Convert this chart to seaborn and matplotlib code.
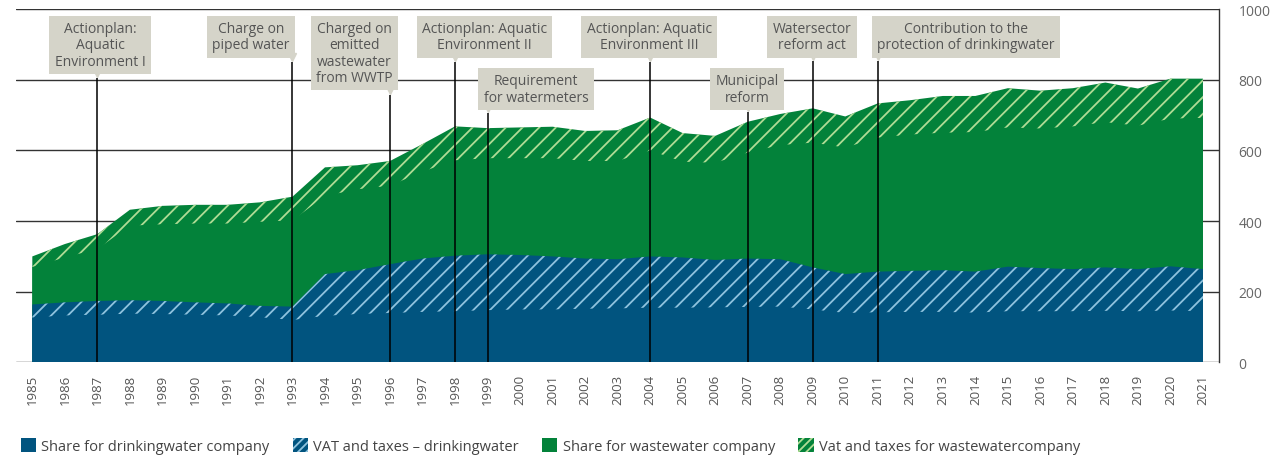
import matplotlib
matplotlib.use("Agg")
import matplotlib.pyplot as plt
import seaborn as sns
import numpy as np
import pandas as pd
from matplotlib.patches import Patch

years = list(range(1985, 2022))

# DKK per m3
drink_share = [127, 133, 135, 138, 137, 135, 133, 128, 120, 132, 137, 140, 143, 145, 148, 150, 150, 152, 153,
               155, 155, 156, 157, 158, 150, 140, 142, 143, 143, 141, 145, 145, 145, 146, 145, 147, 145]
drink_vat = [37, 37, 39, 38, 37, 35, 34, 32, 38, 118, 124, 138, 151, 157, 158, 154, 150, 142, 139,
             145, 142, 134, 137, 134, 119, 110, 115, 116, 118, 116, 126, 122, 119, 123, 119, 125, 119]
waste_share = [106, 127, 147, 211, 217, 223, 226, 238, 244, 221, 229, 222, 246, 270, 272, 274, 278, 276, 278,
               300, 271, 275, 300, 323, 353, 358, 379, 386, 389, 395, 394, 395, 404, 411, 406, 418, 428]
waste_vat = [30, 38, 42, 45, 52, 53, 53, 55, 67, 81, 68, 70, 78, 96, 85, 87, 89, 85, 87,
             93, 81, 76, 87, 88, 97, 88, 97, 97, 104, 102, 111, 107, 108, 112, 105, 113, 111]

series_labels = ["Share for drinkingwater company", "VAT and taxes \u2013 drinkingwater",
                 "Share for wastewater company", "Vat and taxes for wastewatercompany"]

event_years = [1987, 1993, 1996, 1998, 1999, 2004, 2007, 2009, 2011]
event_labels = ["Actionplan:\nAquatic\nEnvironment I", "Charge on\npiped water",
                "Charged on\nemitted\nwastewater\nfrom WWTP", "Actionplan: Aquatic\nEnvironment II",
                "Requirement\nfor watermeters", "Actionplan: Aquatic\nEnvironment III",
                "Municipal\nreform", "Watersector\nreform act",
                "Contribution to the\nprotection of drinkingwater"]

# label placement (layout only)
label_x = [1987.08, 1991.73, 1994.9, 1998.91, 2000.49, 2003.97, 2006.98, 2008.98, 2013.72]
label_top = [966, 966, 966, 966, 818, 966, 818, 966, 966]
line_top = [806, 851, 758, 851, 707, 851, 710, 854, 854]

blue = "#01547f"
green = "#03823a"
blue_hatch = "#8fc3de"
green_hatch = "#b0dc95"
box_color = "#d5d4c9"
text_color = "#555555"

df = pd.DataFrame({"year": years, "drink_share": drink_share, "drink_vat": drink_vat,
                   "waste_share": waste_share, "waste_vat": waste_vat})

sns.set_theme(style="white")
plt.rcParams["font.family"] = ["Open Sans", "DejaVu Sans"]
plt.rcParams["hatch.linewidth"] = 1.3

fig, ax = plt.subplots(figsize=(12.74, 4.56), dpi=100)
fig.subplots_adjust(left=0.0126, right=0.957, top=0.978, bottom=0.203)

layers = ["drink_share", "drink_vat", "waste_share", "waste_vat"]
fills = [blue, blue, green, green]
hatch_cols = [blue, blue_hatch, green, green_hatch]
hatches = [None, "//", None, "//"]

# cumulative tops of the stack
cum = df[layers].cumsum(axis=1)
x = df["year"]

# solid fills drawn from zero (top layer first) so no seams show between layers
for col, fc in reversed(list(zip(layers, fills))):
    ax.fill_between(x, 0, cum[col], facecolor=fc, edgecolor="none", linewidth=0, zorder=2)

# hatch only on the tax bands
for i, (col, hc, h) in enumerate(zip(layers, hatch_cols, hatches)):
    if h is None:
        continue
    lower = cum[layers[i - 1]]
    ax.fill_between(x, lower, cum[col], facecolor="none", edgecolor=hc, hatch=h,
                    linewidth=0, zorder=2.5)

# event markers
for yr, lab, lx, lt, tip in zip(event_years, event_labels, label_x, label_top, line_top):
    ax.vlines(yr, 0, tip, color="black", linewidth=1.1, zorder=3)
    ax.plot(yr, tip + 12, marker="v", markersize=6, color=box_color, zorder=4, clip_on=False)
    ax.text(lx, lt, lab, ha="center", va="top", fontsize=10, color=text_color, linespacing=1.12,
            bbox=dict(boxstyle="square,pad=0.38", facecolor=box_color, edgecolor="none"), zorder=5)

ax.set_xlim(1984.5, 2021.5)
ax.set_ylim(0, 1000)
ax.set_xticks(years)
ax.set_xticklabels([str(y) for y in years], rotation=90)
ax.set_yticks([0, 200, 400, 600, 800, 1000])
ax.yaxis.tick_right()
ax.tick_params(axis="y", length=0, pad=14, labelsize=10, labelcolor="#666666")
ax.tick_params(axis="x", length=0, pad=8, labelsize=9.5, labelcolor="#555555")
ax.grid(axis="y", color="#333333", linewidth=1.0, zorder=0)
ax.grid(axis="x", visible=False)
ax.set_axisbelow(True)
sns.despine(ax=ax, left=True, bottom=True, top=True, right=False)
ax.spines["right"].set_color("#333333")
ax.spines["right"].set_linewidth(1.0)

handles = [Patch(facecolor=fc, edgecolor=hc, hatch=("////" if h else None), linewidth=0)
           for fc, hc, h in zip(fills, hatch_cols, hatches)]
fig.legend(handles, series_labels, loc="center left", bbox_to_anchor=(0.006, 0.02), ncol=4,
           frameon=False, fontsize=10.5, handlelength=1.05, handleheight=1.05, handletextpad=0.35,
           columnspacing=1.6, labelcolor="#444444")

fig.savefig("out.png", dpi=100)
